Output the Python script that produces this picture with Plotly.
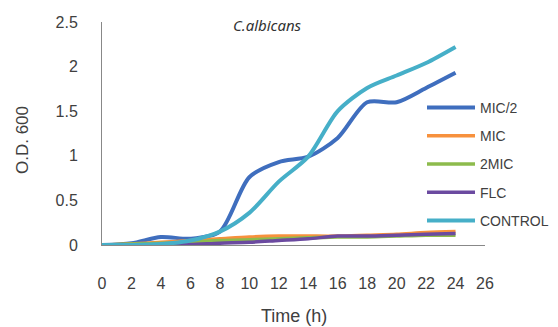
import plotly.graph_objects as go

time_h = [0, 2, 4, 6, 8, 10, 12, 14, 16, 18, 20, 22, 24]
mic_half = [0.0, 0.02, 0.09, 0.07, 0.15, 0.76, 0.93, 0.99, 1.2, 1.6, 1.6, 1.76, 1.93]
mic = [0.0, 0.01, 0.03, 0.05, 0.07, 0.09, 0.1, 0.1, 0.1, 0.11, 0.12, 0.14, 0.15]
mic2 = [0.0, 0.01, 0.02, 0.03, 0.05, 0.06, 0.07, 0.08, 0.09, 0.09, 0.1, 0.11, 0.11]
flc = [0.0, 0.0, 0.0, 0.005, 0.02, 0.03, 0.05, 0.07, 0.1, 0.1, 0.11, 0.12, 0.13]
control = [0.0, 0.0, 0.01, 0.05, 0.15, 0.36, 0.71, 0.99, 1.5, 1.76, 1.9, 2.04, 2.22]
x_ticks = list(range(0, 27, 2))
y_ticks = [0, 0.5, 1, 1.5, 2, 2.5]
y_tick_text = ["0", "0.5", "1", "1.5", "2", "2.5"]

series = [
    ("MIC/2", mic_half, "#3F6EBE", 4),
    ("MIC", mic, "#F7913D", 3.5),
    ("2MIC", mic2, "#8DBB4C", 3.5),
    ("FLC", flc, "#6B4AA0", 3.5),
    ("CONTROL", control, "#46AFC8", 4),
]

fig = go.Figure()
for name, ys, color, w in series:
    fig.add_trace(go.Scatter(x=time_h, y=ys, mode="lines", name=name, legendgroup=name,
                             line=dict(color=color, width=w, shape="spline", smoothing=0.8)))

# page body has an 8px default margin, so the figure is drawn 8px smaller
W, H = 550, 319
L, R, T, B = 94, 73, 14, 82
PW, PH = W - L - R, H - T - B

def px(xf):
    return (xf - L) / PW

def py(yf):
    return 1 - (yf - T) / PH

font_family = "Liberation Sans, Arial, sans-serif"
fig.update_layout(
    width=W, height=H,
    margin=dict(l=L, r=R, t=T, b=B, autoexpand=False),
    paper_bgcolor="white", plot_bgcolor="white",
    font=dict(family=font_family, size=16, color="#404040"),
    showlegend=True,
    legend=dict(x=px(414), y=py(84), xanchor="left", yanchor="top",
                bgcolor="rgba(0,0,0,0)", font=dict(size=14, color="#404040"),
                tracegroupgap=7, itemwidth=48),
    xaxis=dict(range=[0, 26], tickmode="array", tickvals=x_ticks,
               showgrid=False, zeroline=False, showline=True, linecolor="#888888",
               linewidth=1, ticks="", ticklabelstandoff=24, automargin=False,
               tickfont=dict(size=16)),
    yaxis=dict(range=[0, 2.5], tickvals=y_ticks, ticktext=y_tick_text,
               showgrid=False, zeroline=False, showline=True, linecolor="#888888",
               linewidth=1, ticks="", ticklabelstandoff=20, automargin=False,
               tickfont=dict(size=16)),
    annotations=[
        dict(text="<i>C.albicans</i>", x=px(259), y=py(17), xref="paper", yref="paper",
             xanchor="center", yanchor="middle", showarrow=False,
             font=dict(size=15, color="#333333", family="Noto Sans")),
        dict(text="Time (h)", x=px(286), y=py(308), xref="paper", yref="paper",
             xanchor="center", yanchor="middle", showarrow=False,
             font=dict(size=18, color="#404040")),
        dict(text="O.D. 600", x=px(14), y=py(132), xref="paper", yref="paper",
             xanchor="center", yanchor="middle", showarrow=False, textangle=-90,
             font=dict(size=17, color="#404040")),
    ],
)

fig.write_html("out.html")
